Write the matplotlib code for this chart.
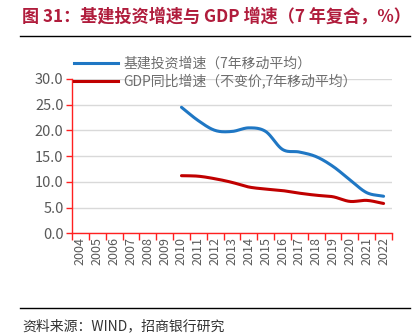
import numpy as np
import matplotlib
matplotlib.use("Agg")
import matplotlib.pyplot as plt
from matplotlib.lines import Line2D

plt.rcParams['font.family'] = ['Noto Sans CJK SC', 'DejaVu Sans']

years = [str(y) for y in range(2004, 2023)]
infra_years = list(range(2010, 2023))
infra = [24.5, 21.9, 20.0, 19.8, 20.5, 19.8, 16.3, 15.8, 14.9, 13.0, 10.4, 7.9, 7.2]
gdp = [11.2, 11.1, 10.6, 9.9, 9.0, 8.6, 8.3, 7.8, 7.4, 7.1, 6.2, 6.4, 5.8]
yticks = [0, 5, 10, 15, 20, 25, 30]

title = "图 31：基建投资增速与 GDP 增速（7 年复合，%）"
label_infra = "基建投资增速（7年移动平均）"
label_gdp = "GDP同比增速（不变价,7年移动平均）"
source = "资料来源：WIND，招商银行研究"

def smooth(x, y, n=20):
    x = np.asarray(x, float); y = np.asarray(y, float)
    px = np.concatenate([[2*x[0]-x[1]], x, [2*x[-1]-x[-2]]])
    py = np.concatenate([[2*y[0]-y[1]], y, [2*y[-1]-y[-2]]])
    ox, oy = [], []
    for i in range(1, len(px)-2):
        t = np.linspace(0, 1, n, endpoint=False)
        for arr, out in ((px, ox), (py, oy)):
            p0, p1, p2, p3 = arr[i-1], arr[i], arr[i+1], arr[i+2]
            out.extend(0.5*((2*p1) + (-p0+p2)*t + (2*p0-5*p1+4*p2-p3)*t**2 + (-p0+3*p1-3*p2+p3)*t**3))
    ox.append(x[-1]); oy.append(y[-1])
    return np.array(ox), np.array(oy)

fig = plt.figure(figsize=(4.19, 3.34), dpi=100)
ax = fig.add_axes([72/419, 1-233.3/334, 320/419, (233.3-79)/334])

pos = [years.index(str(y)) for y in infra_years]
bx, by = smooth(pos, infra)
rx, ry = smooth(pos, gdp)
ax.plot(bx, by, color='#1F77C4', lw=2.2, solid_capstyle='round')
ax.plot(rx, ry, color='#C00000', lw=2.2, solid_capstyle='round')

ax.set_xlim(-0.5, len(years)-0.5)
ax.set_ylim(0, 30)
ax.set_yticks(yticks)
ax.set_yticklabels([f"{v:.1f}" for v in yticks], color='#595959', fontsize=10.5)
ax.set_xticks(range(len(years)))
ax.set_xticklabels(years, rotation=90, color='#595959', fontsize=9)
ax.tick_params(axis='x', length=0, pad=3)
ax.set_xticks(np.arange(-0.5, len(years)), minor=True)
ax.tick_params(axis='x', which='minor', length=5, color='#FF2020', width=1)
ax.tick_params(axis='y', length=4, color='#FF2020', width=1, pad=2)
ax.grid(axis='y', color='#D9D9D9', lw=1)
ax.set_axisbelow(True)
for s in ['top', 'right']:
    ax.spines[s].set_visible(False)
for s in ['left', 'bottom']:
    ax.spines[s].set_color('#FF2020')
    ax.spines[s].set_linewidth(1)

handles = [Line2D([], [], color='#1F77C4', lw=2.2), Line2D([], [], color='#C00000', lw=2.2)]
fig.legend(handles, [label_infra, label_gdp], loc='upper left', bbox_to_anchor=(68/419, 1-51/334),
           frameon=False, fontsize=10, handlelength=3.2, labelcolor='#6E6E6E',
           labelspacing=0.22, handletextpad=0.4, borderaxespad=0)

fig.text(22/419, 1-17/334, title, color='#B01C3C', fontsize=12.3, fontweight='bold', va='center', ha='left')
fig.add_artist(Line2D([20/419, 410/419], [1-36/334, 1-36/334], color='black', lw=1))
fig.add_artist(Line2D([20/419, 410/419], [1-308/334, 1-308/334], color='black', lw=1))
fig.text(22/419, 1-326/334, source, color='#333333', fontsize=10, va='center', ha='left')

fig.savefig('out.png', dpi=100)
